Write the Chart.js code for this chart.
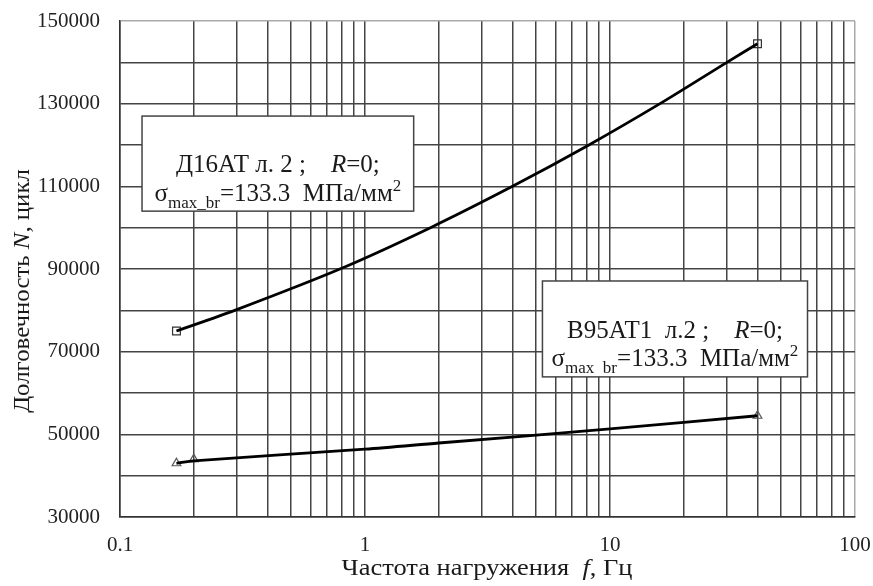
<!DOCTYPE html>
<html>
<head>
<meta charset="utf-8">
<script src="https://cdn.jsdelivr.net/npm/chart.js@4"></script>
<style>
  html, body { margin: 0; padding: 0; background: #fff; }
  #wrap { width: 873px; height: 586px; }
</style>
</head>
<body>
<div id="wrap"><canvas id="chart" width="873" height="586"></canvas></div>
<script>
// measured points (markers)
const d16Points = [[0.17, 75000], [40, 144500]];
const v95Points = [[0.17, 43000], [0.2, 44000], [40, 54500]];

// fitted curves
const d16Curve = [[0.17, 75000], [0.294, 80000], [0.79, 90000], [1.85, 100000], [4.0, 110000],
  [8.2, 120000], [16, 130000], [30, 140000], [40, 144500]];
const v95Curve = [[0.17, 43000], [0.2, 43600], [1, 46400], [2, 47900], [10, 51300], [40, 54500]];

// axes
const xGrid = [0.1, 0.2, 0.3, 0.4, 0.5, 0.6, 0.7, 0.8, 0.9,
  1, 2, 3, 4, 5, 6, 7, 8, 9,
  10, 20, 30, 40, 50, 60, 70, 80, 90, 100];
const xTickLabels = [0.1, 1, 10, 100];
const yTickLabels = [30000, 50000, 70000, 90000, 110000, 130000, 150000];

const serif = "'Liberation Serif', 'Times New Roman', serif";

const toXY = arr => arr.map(p => ({ x: p[0], y: p[1] }));

// draws mixed-font text centred on x; sx stretches it horizontally
function drawRich(ctx, parts, x, y, sx) {
  sx = sx || 1;
  let total = 0;
  parts.forEach(p => {
    ctx.font = p.font;
    p.w = ctx.measureText(p.t).width;
    total += p.w;
  });
  ctx.save();
  ctx.translate(x, y);
  ctx.scale(sx, 1);
  let cx = -total / 2;
  parts.forEach(p => {
    ctx.font = p.font;
    ctx.fillText(p.t, cx, p.dy || 0);
    cx += p.w;
  });
  ctx.restore();
}

const big = '25px ' + serif;
const bigIt = 'italic 25px ' + serif;
const small = '17px ' + serif;

const boxes = [
  {
    x0: 0.123, x1: 1.58, y0: 127000, y1: 104000,
    lines: [
      { dy: 8, parts: [{ t: 'Д16АТ л. 2 ;    ', font: big }, { t: 'R', font: bigIt }, { t: '=0;', font: big }] },
      { dy: 37, parts: [{ t: 'σ', font: big }, { t: 'max_br', font: small, dy: 7 },
        { t: '=133.3  МПа/мм', font: big }, { t: '2', font: small, dy: -10 }] }
    ]
  },
  {
    x0: 5.3, x1: 64, y0: 87100, y1: 63900,
    lines: [
      { dy: 9, parts: [{ t: 'В95АТ1  л.2 ;    ', font: big }, { t: 'R', font: bigIt }, { t: '=0;', font: big }] },
      { dy: 37, parts: [{ t: 'σ', font: big }, { t: 'max  br', font: small, dy: 7 },
        { t: '=133.3  МПа/мм', font: big }, { t: '2', font: small, dy: -10 }] }
    ]
  }
];

const notes = {
  id: 'notes',
  afterDatasetsDraw(chart) {
    const ctx = chart.ctx;
    const xs = chart.scales.x, ys = chart.scales.y;
    ctx.save();
    boxes.forEach(b => {
      const l = xs.getPixelForValue(b.x0), r = xs.getPixelForValue(b.x1);
      const t = ys.getPixelForValue(b.y0), btm = ys.getPixelForValue(b.y1);
      ctx.fillStyle = '#fff';
      ctx.fillRect(l, t, r - l, btm - t);
      ctx.strokeStyle = '#444';
      ctx.lineWidth = 1.5;
      ctx.strokeRect(l, t, r - l, btm - t);
      ctx.fillStyle = '#1a1a1a';
      ctx.textBaseline = 'alphabetic';
      const cx = (l + r) / 2, cy = (t + btm) / 2;
      b.lines.forEach(line => drawRich(ctx, line.parts, cx, cy + line.dy));
    });
    ctx.restore();
  },
  afterDraw(chart) {
    const ctx = chart.ctx;
    ctx.save();
    ctx.fillStyle = '#1a1a1a';
    ctx.textBaseline = 'middle';
    const f = '23px ' + serif, fi = 'italic 23px ' + serif;
    drawRich(ctx, [{ t: 'Частота нагружения  ', font: f }, { t: 'f', font: fi }, { t: ', Гц', font: f }], 487, 569, 1.15);
    ctx.translate(23, 291);
    ctx.rotate(-Math.PI / 2);
    drawRich(ctx, [{ t: 'Долговечность ', font: f }, { t: 'N', font: fi }, { t: ', цикл', font: f }], 0, 0, 1.08);
    ctx.restore();
  }
};

const gridColor = '#444';

new Chart(document.getElementById('chart'), {
  type: 'scatter',
  data: {
    datasets: [
      {
        data: toXY(d16Curve), showLine: true, borderColor: '#000', borderWidth: 2.8,
        pointRadius: 0, tension: 0.3
      },
      {
        data: toXY(v95Curve), showLine: true, borderColor: '#000', borderWidth: 2.8,
        pointRadius: 0, tension: 0.3
      },
      {
        data: toXY(d16Points), pointStyle: 'rect', pointRadius: 5.5,
        borderColor: '#333', borderWidth: 1.2, backgroundColor: 'rgba(255,255,255,0)'
      },
      {
        data: toXY(v95Points), pointStyle: 'triangle', pointRadius: 5,
        borderColor: '#555', borderWidth: 1.2, backgroundColor: 'rgba(255,255,255,0)'
      }
    ]
  },
  options: {
    responsive: false,
    animation: false,
    layout: { padding: { top: 21, right: 18, left: 0, bottom: 0 } },
    plugins: { legend: { display: false }, tooltip: { enabled: false } },
    scales: {
      x: {
        type: 'logarithmic',
        min: 0.1,
        max: 100,
        afterBuildTicks: scale => { scale.ticks = xGrid.map(v => ({ value: v })); },
        afterFit: scale => {
          scale.height = 69;
          scale.paddingRight = 10;
          scale.paddingLeft = 10;
        },
        grid: {
          drawTicks: false,
          lineWidth: 1.5,
          color: ctx => (ctx.tick && ctx.tick.value === 100 ? '#aaa' : gridColor)
        },
        border: { color: '#333', width: 1.5 },
        ticks: {
          autoSkip: false,
          maxRotation: 0,
          padding: 16,
          color: '#222',
          font: { family: serif, size: 21 },
          callback: v => (xTickLabels.some(t => Math.abs(t - v) < 1e-9) ? String(v) : '')
        }
      },
      y: {
        min: 30000,
        max: 150000,
        afterFit: scale => {
          scale.width = 120;
          scale.paddingTop = 0;
          scale.paddingBottom = 0;
        },
        grid: {
          drawTicks: false,
          lineWidth: 1.5,
          color: ctx => (ctx.tick && ctx.tick.value === 150000 ? '#aaa' : gridColor)
        },
        border: { color: '#333', width: 1.5 },
        ticks: {
          stepSize: 10000,
          autoSkip: false,
          padding: 20,
          color: '#222',
          font: { family: serif, size: 21 },
          callback: v => (yTickLabels.includes(v) ? String(v) : '')
        }
      }
    }
  },
  plugins: [notes]
});
</script>
</body>
</html>
